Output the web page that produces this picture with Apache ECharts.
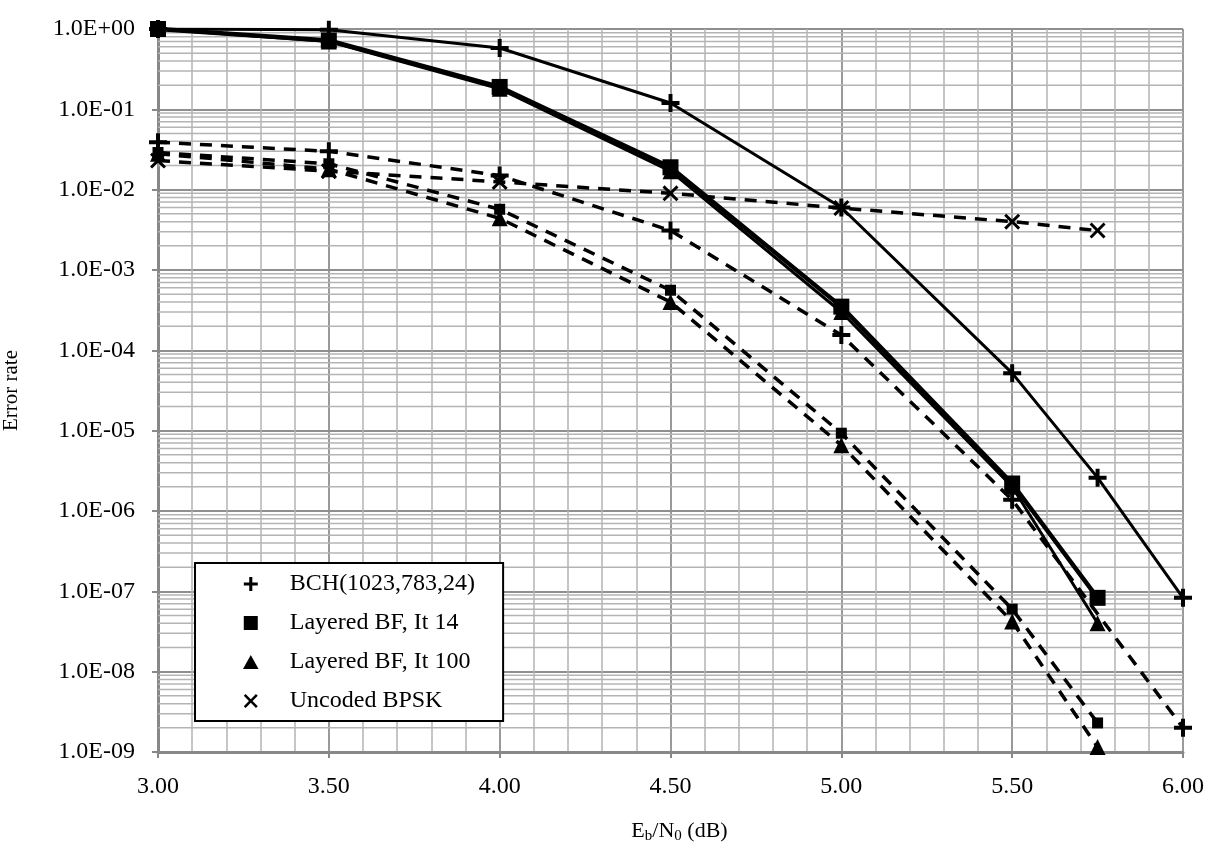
<!DOCTYPE html>
<html><head><meta charset="utf-8">
<script src="https://cdn.jsdelivr.net/npm/echarts@6/dist/echarts.min.js"></script>
<style>html,body{margin:0;padding:0;background:#fff}#c{width:1211px;height:852px}</style>
</head><body><div id="c"></div>
<script>
// ---- data ----
const xBch = [3.0, 3.5, 4.0, 4.5, 5.0, 5.5, 5.75, 6.0];
const bchFer = [1.0, 0.98, 0.58, 0.12, 6.0e-3, 5.2e-5, 2.6e-6, 8.3e-8];
const xBchBer = [3.0, 3.5, 4.0, 4.5, 5.0, 5.5, 6.0];
const bchBer = [0.039, 0.030, 0.015, 3.1e-3, 1.55e-4, 1.38e-6, 2.0e-9];
const xLdpc = [3.0, 3.5, 4.0, 4.5, 5.0, 5.5, 5.75];
const it14Fer = [1.0, 0.72, 0.19, 0.019, 3.5e-4, 2.2e-6, 8.3e-8];
const it14Ber = [0.029, 0.021, 5.7e-3, 5.6e-4, 9.3e-6, 6.0e-8, 2.3e-9];
const it100Fer = [1.0, 0.70, 0.18, 0.017, 3.0e-4, 2.0e-6, 4.0e-8];
const it100Ber = [0.028, 0.018, 4.4e-3, 4.0e-4, 6.6e-6, 4.2e-8, 1.15e-9];
const xUnc = [3.0, 3.5, 4.0, 4.5, 5.0, 5.5, 5.75];
const uncodedBer = [0.023, 0.017, 0.0125, 0.009, 0.0059, 0.0040, 0.0031];
const seriesNames = ['BCH(1023,783,24)', 'Layered BF, It 14', 'Layered BF, It 100', 'Uncoded BPSK'];
const xTickLabels = ['3.00', '3.50', '4.00', '4.50', '5.00', '5.50', '6.00'];
const yTickLabels = ['1.0E-09', '1.0E-08', '1.0E-07', '1.0E-06', '1.0E-05', '1.0E-04', '1.0E-03', '1.0E-02', '1.0E-01', '1.0E+00'];

// ---- symbols ----
const PLUS = 'path://M7.8,0H12.2V7.8H20V12.2H12.2V20H7.8V12.2H0V7.8H7.8Z';
const CROSS = 'path://M0,2.6L2.6,0L10,7.4L17.4,0L20,2.6L12.6,10L20,17.4L17.4,20L10,12.6L2.6,20L0,17.4L7.4,10Z';
const SQUARE = 'path://M0,0H20V20H0Z';
const TRI = 'path://M10,0L20,18H0Z';

const FONT = 'Liberation Serif';
const MAJOR = '#8f8f8f', MINOR = '#b4b4b4';
const pairs = (xa, ya) => xa.map((x, i) => [x, ya[i]]);

function mk(name, xa, ya, dashed, symbol, size, width) {
  return {
    name, type: 'line', data: pairs(xa, ya), z: 3,
    symbol, symbolSize: size, showAllSymbol: true,
    itemStyle: { color: '#000' },
    lineStyle: { color: '#000', width, type: dashed ? [12, 9] : 'solid' },
    emphasis: { disabled: true }
  };
}

// minor (2..9) horizontal gridlines of each decade, drawn through the log axis
const gridSeries = [];
for (let d = -9; d < 0; d++) for (let m = 2; m <= 9; m++) {
  const v = m * Math.pow(10, d);
  gridSeries.push({
    name: 'grid', type: 'line', data: [[3, v], [6, v]], z: 1, silent: true,
    symbol: 'none', lineStyle: { color: MINOR, width: 1.5 }, emphasis: { disabled: true }
  });
}

const option = {
  animation: false,
  backgroundColor: '#fff',
  grid: { left: 158, right: 28, top: 29, bottom: 100, containLabel: false, outerBoundsMode: 'none' },
  xAxis: {
    type: 'value', min: 3, max: 6, interval: 0.5,
    name: '{a|E}{s|b}{a|/N}{s|0}{a| (dB)}', nameLocation: 'middle', nameGap: 67,
    nameTextStyle: { padding: [0, 0, 0, 18], rich: { a: { fontFamily: FONT, fontSize: 22, color: '#000' }, s: { fontFamily: FONT, fontSize: 15, color: '#000', padding: [10, 0, 0, 0] } } },
    axisLine: { show: true, lineStyle: { color: '#888', width: 3 } },
    axisTick: { show: true, length: 6, lineStyle: { color: '#888', width: 2 } },
    axisLabel: { fontFamily: FONT, fontSize: 24, color: '#000', margin: 23,
      formatter: v => xTickLabels[Math.round((v - 3) / 0.5)] },
    splitLine: { show: true, lineStyle: { color: MAJOR, width: 1.8 } },
    minorTick: { show: false, splitNumber: 5 },
    minorSplitLine: { show: true, lineStyle: { color: MINOR, width: 1.5 } }
  },
  yAxis: {
    type: 'log', logBase: 10, min: 1e-9, max: 1, splitNumber: 9,
    name: 'Error rate', nameLocation: 'middle', nameGap: 136,
    nameTextStyle: { fontFamily: FONT, fontSize: 21, color: '#000' },
    axisLine: { show: true, lineStyle: { color: '#888', width: 3 } },
    axisTick: { show: true, length: 6, lineStyle: { color: '#888', width: 2 } },
    axisLabel: { fontFamily: FONT, fontSize: 24, color: '#000', margin: 23,
      formatter: v => yTickLabels[Math.round(Math.log10(v)) + 9] },
    splitLine: { show: true, lineStyle: { color: MAJOR, width: 1.8 } }
  },
  legend: {
    orient: 'vertical', left: 195, top: 563,
    padding: [9, 28, 8, 48], itemGap: 15,
    itemWidth: 56, itemHeight: 14, symbolKeepAspect: true,
    backgroundColor: '#fff', borderColor: '#000', borderWidth: 2,
    itemStyle: { color: '#000', borderWidth: 0 },
    textStyle: { fontFamily: FONT, fontSize: 24, color: '#000', padding: [0, 0, 0, 6] },
    selectedMode: false,
    data: [
      { name: seriesNames[0], icon: PLUS },
      { name: seriesNames[1], icon: SQUARE },
      { name: seriesNames[2], icon: TRI },
      { name: seriesNames[3], icon: CROSS }
    ]
  },
  series: gridSeries.concat([
    mk(seriesNames[1], xLdpc, it14Fer, false, 'rect', 16, 4.5),
    mk(seriesNames[2], xLdpc, it100Fer, false, 'triangle', 16, 3),
    mk(seriesNames[0], xBch, bchFer, false, PLUS, 18, 3),
    mk(seriesNames[0], xBchBer, bchBer, true, PLUS, 18, 3.5),
    mk(seriesNames[1], xLdpc, it14Ber, true, 'rect', 11, 3.5),
    mk(seriesNames[2], xLdpc, it100Ber, true, 'triangle', 16, 3.5),
    mk(seriesNames[3], xUnc, uncodedBer, true, CROSS, 16, 3.5)
  ])
};
const chart = echarts.init(document.getElementById('c'), null, { renderer: 'canvas' });
chart.setOption(option);
</script></body></html>
